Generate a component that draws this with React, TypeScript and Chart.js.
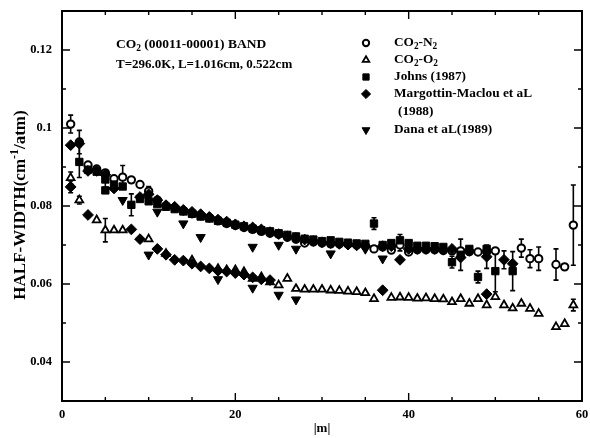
import React, { useEffect, useRef } from "react";
import { Chart, registerables } from "chart.js";
import { drawPoint } from "chart.js/helpers";

Chart.register(...registerables);

const FONT = '"Liberation Serif", "Times New Roman", serif';

// ---- axes ----
const xMin = 0;
const xMax = 60;
const xTickValues = [0, 20, 40, 60];
const xMinorValues = [5, 10, 15, 25, 30, 35, 45, 50, 55];
const yMin = 0.03;
const yMax = 0.13;
const yTickValues = [0.04, 0.06, 0.08, 0.1, 0.12];
const yTickLabels = ["0.04", "0.06", "0.08", "0.1", "0.12"];
const yMinorValues = [0.05, 0.07, 0.09, 0.11];
const xTitle = "|m|";
const yTitleParts: [string, number][] = [["HALF-WIDTH(cm", 0], ["-1", 2], ["/atm)", 0]];

// ---- annotation ----
const noteLine1 = "CO₂ (00011-00001) BAND";
const noteLine2 = "T=296.0K, L=1.016cm, 0.522cm";

// ---- series labels ----
const seriesLabels = ["CO₂-N₂", "CO₂-O₂", "Johns (1987)", "Margottin-Maclou et aL", "Dana et aL(1989)"];
const seriesLabelExtra = ["", "", "", "(1988)", ""];

// ---- CO2-N2 (open circles) ----
const n2M = [
  1, 2, 3, 4, 5, 6, 7, 8, 9, 10,
  11, 12, 13, 14, 15, 16, 17, 18, 19, 20,
  21, 22, 23, 24, 25, 26, 27, 28, 29, 30,
  31, 32, 33, 34, 35, 36, 37, 38, 39, 40,
  41, 42, 43, 44, 45, 46, 47, 48, 49, 50,
  53, 54, 55, 57, 58, 59,
];
const n2W = [
  0.101, 0.0964, 0.0905, 0.0895, 0.0885, 0.087, 0.0874, 0.0867, 0.0855, 0.0838,
  0.0815, 0.08, 0.0795, 0.0788, 0.078, 0.0775, 0.077, 0.0762, 0.0755, 0.075,
  0.0745, 0.074, 0.0735, 0.073, 0.0728, 0.072, 0.0715, 0.0705, 0.0708, 0.0705,
  0.0703, 0.0703, 0.0702, 0.07, 0.0698, 0.069, 0.0695, 0.0687, 0.07, 0.0682,
  0.0688, 0.0688, 0.0688, 0.0686, 0.0685, 0.0685, 0.0683, 0.0682, 0.0683, 0.0685,
  0.0692, 0.0665, 0.0665, 0.065, 0.0644, 0.0751,
];
const n2E = [
  0.0023, 0.003, 0, 0, 0, 0, 0.003, 0, 0, 0.0012,
  0, 0, 0, 0, 0, 0, 0, 0, 0, 0,
  0, 0, 0, 0, 0, 0, 0, 0, 0, 0,
  0, 0, 0, 0, 0, 0, 0, 0, 0.0015, 0,
  0, 0, 0, 0, 0, 0, 0, 0, 0, 0,
  0.0023, 0.0023, 0.003, 0.004, 0, 0.0103,
];

// ---- CO2-O2 (open triangles) ----
const o2M = [
  1, 2, 4, 5, 6, 7, 10, 12, 15,
  18, 19, 20, 21, 22, 23, 24, 25, 26, 27, 28, 29, 30, 31, 32, 33, 34, 35, 36,
  38, 39, 40, 41, 42, 43, 44, 45, 46, 47, 48, 49, 50, 51, 52, 53, 54, 55,
  57, 58, 59,
];
const o2W = [
  0.0872, 0.0815, 0.0764, 0.0738, 0.0738, 0.0738, 0.0715, 0.0678, 0.0661,
  0.0639, 0.0636, 0.0636, 0.0631, 0.0614, 0.0618, 0.0605, 0.0597, 0.0614, 0.0588, 0.0586, 0.0586, 0.0586, 0.0584, 0.0583, 0.0581, 0.058, 0.0577, 0.0562,
  0.0565, 0.0566, 0.0565, 0.0563, 0.0564, 0.0562, 0.0561, 0.0554, 0.0562, 0.055, 0.0562, 0.0546, 0.0567, 0.0546, 0.0538, 0.055, 0.0537, 0.0524,
  0.049, 0.0498, 0.0546,
];
const o2E = [
  0.0015, 0.001, 0, 0.003, 0, 0, 0, 0, 0,
  0, 0, 0, 0, 0, 0, 0, 0, 0, 0, 0, 0, 0, 0, 0, 0, 0, 0, 0,
  0, 0, 0, 0, 0, 0, 0, 0, 0, 0, 0, 0, 0, 0, 0, 0, 0, 0,
  0, 0, 0.0015,
];

// ---- Johns (1987) (filled squares) ----
const johnsM = [
  2, 3, 4, 5, 5, 6, 7, 8, 9, 10,
  11, 12, 13, 14, 15, 16, 17, 18, 19, 20,
  21, 22, 23, 24, 25, 26, 27, 28, 29, 30,
  31, 32, 33, 34, 35, 36, 37, 38, 39, 40,
  41, 42, 43, 44, 45, 46, 47, 48, 49, 50,
  52,
];
const johnsW = [
  0.0913, 0.0893, 0.0888, 0.0868, 0.084, 0.0855, 0.085, 0.0803, 0.0818, 0.0812,
  0.0805, 0.0798, 0.0792, 0.0786, 0.078, 0.0773, 0.0768, 0.0762, 0.0757, 0.0752,
  0.0748, 0.0742, 0.0738, 0.0735, 0.073, 0.0726, 0.0722, 0.0716, 0.0714, 0.071,
  0.0712, 0.0708, 0.0706, 0.0704, 0.0703, 0.0755, 0.07, 0.0705, 0.0712, 0.0705,
  0.0698, 0.0698, 0.0697, 0.0695, 0.0656, 0.0675, 0.069, 0.0618, 0.069, 0.0633,
  0.0633,
];
const johnsE = [
  0.004, 0, 0, 0.002, 0, 0, 0, 0.0028, 0, 0,
  0, 0, 0, 0, 0, 0, 0, 0, 0, 0,
  0, 0, 0, 0, 0, 0, 0, 0, 0, 0,
  0, 0, 0, 0, 0, 0.0015, 0, 0, 0.0015, 0,
  0, 0, 0, 0, 0.0015, 0.004, 0, 0.0015, 0, 0.0053,
  0.005,
];

// ---- Margottin-Maclou et al. (1988) (filled diamonds) ----
const margM = [
  1, 2, 3, 4, 5, 6, 9, 10, 11, 12,
  13, 14, 15, 16, 17, 18, 19, 20, 21, 22,
  23, 24, 25, 26, 27, 28, 29, 30, 31, 32,
  33, 34, 35, 37, 38, 39, 40, 41, 42, 43,
  44, 45, 46, 47, 49, 51, 52,
  1, 3, 8, 9, 11, 12, 13, 14, 15, 16,
  17, 18, 19, 20, 21, 22, 23, 24, 37, 49,
];
const margW = [
  0.0956, 0.096, 0.089, 0.089, 0.088, 0.0845, 0.0823, 0.083, 0.0815, 0.0802,
  0.0798, 0.079, 0.0785, 0.0779, 0.0772, 0.0765, 0.076, 0.0753, 0.0748, 0.0745,
  0.074, 0.0733, 0.0728, 0.0722, 0.0718, 0.0714, 0.071, 0.0707, 0.0705, 0.0703,
  0.0701, 0.0699, 0.0697, 0.0697, 0.0697, 0.0662, 0.069, 0.069, 0.069, 0.069,
  0.0688, 0.069, 0.0668, 0.0685, 0.067, 0.0662, 0.0652,
  0.0849, 0.0777, 0.074, 0.0715, 0.069, 0.0675, 0.0662, 0.066, 0.0652, 0.0645,
  0.064, 0.0634, 0.0632, 0.0628, 0.0624, 0.0617, 0.0612, 0.061, 0.0584, 0.0574,
];
const margE = [
  0, 0, 0, 0, 0, 0, 0, 0, 0, 0,
  0, 0, 0, 0, 0, 0, 0, 0, 0, 0,
  0, 0, 0, 0, 0, 0, 0, 0, 0, 0,
  0, 0, 0, 0, 0, 0, 0, 0, 0, 0,
  0, 0, 0, 0, 0.003, 0.0023, 0,
  0.0015, 0, 0, 0, 0, 0, 0, 0, 0, 0,
  0, 0, 0, 0, 0, 0, 0, 0, 0, 0,
];

// ---- Dana et al. (1989) (filled down triangles) ----
const danaM = [7, 11, 14, 16, 22, 25, 27, 31, 35, 37, 10, 18, 22, 25, 27];
const danaW = [0.0815, 0.0785, 0.0755, 0.072, 0.0695, 0.07, 0.069, 0.0678, 0.069, 0.0665, 0.0675, 0.0612, 0.059, 0.0572, 0.056];
const danaE = [0, 0, 0, 0, 0, 0, 0, 0, 0, 0, 0, 0, 0, 0, 0];

type Style = { pointStyle: string; rotation: number; radius: number; fill: string; borderWidth: number };
const seriesStyles: Style[] = [
  { pointStyle: "circle", rotation: 0, radius: 3.7, fill: "#ffffff", borderWidth: 2 },
  { pointStyle: "triangle", rotation: 0, radius: 4.5, fill: "#ffffff", borderWidth: 1.8 },
  { pointStyle: "rect", rotation: 0, radius: 5.2, fill: "#000000", borderWidth: 1 },
  { pointStyle: "rectRot", rotation: 0, radius: 5.4, fill: "#000000", borderWidth: 1 },
  { pointStyle: "triangle", rotation: 180, radius: 5.3, fill: "#000000", borderWidth: 1 },
];

const seriesData = [
  { m: n2M, w: n2W, e: n2E },
  { m: o2M, w: o2W, e: o2E },
  { m: johnsM, w: johnsW, e: johnsE },
  { m: margM, w: margW, e: margE },
  { m: danaM, w: danaW, e: danaE },
];
const drawOrder = [5, 4, 3, 2, 1];

function drawRich(ctx: CanvasRenderingContext2D, text: string, x: number, y: number, size: number, align: "left" | "center") {
  const parts: [string, number][] = [];
  for (const ch of text) {
    const sub = ch === "₂";
    const t = sub ? "2" : ch;
    const k = sub ? 1 : 0;
    if (parts.length && parts[parts.length - 1][1] === k) parts[parts.length - 1][0] += t;
    else parts.push([t, k]);
  }
  drawParts(ctx, parts, x, y, size, align);
}

function drawParts(ctx: CanvasRenderingContext2D, parts: [string, number][], x: number, y: number, size: number, align: "left" | "center") {
  let w = 0;
  for (const [t, k] of parts) {
    ctx.font = `bold ${k ? size * 0.7 : size}px ${FONT}`;
    w += ctx.measureText(t).width;
  }
  let cx = align === "center" ? x - w / 2 : x;
  ctx.textAlign = "left";
  ctx.textBaseline = "middle";
  for (const [t, k] of parts) {
    const s = k ? size * 0.7 : size;
    ctx.font = `bold ${s}px ${FONT}`;
    const dy = k === 1 ? size * 0.3 : k === 2 ? -size * 0.38 : 0;
    ctx.fillText(t, cx, y + dy);
    cx += ctx.measureText(t).width;
  }
}

const errorBarPlugin = {
  id: "errorBars",
  beforeDatasetsDraw(chart: any) {
    const { ctx, scales } = chart;
    const xs = scales.x;
    const ys = scales.y;
    ctx.save();
    ctx.strokeStyle = "#000";
    ctx.lineWidth = 1.6;
    seriesData.forEach((s) => {
      s.m.forEach((m, i) => {
        const e = s.e[i];
        if (!e) return;
        const px = xs.getPixelForValue(m);
        const y1 = ys.getPixelForValue(s.w[i] + e);
        const y2 = ys.getPixelForValue(s.w[i] - e);
        ctx.beginPath();
        ctx.moveTo(px, y1);
        ctx.lineTo(px, y2);
        ctx.moveTo(px - 2.5, y1);
        ctx.lineTo(px + 2.5, y1);
        ctx.moveTo(px - 2.5, y2);
        ctx.lineTo(px + 2.5, y2);
        ctx.stroke();
      });
    });
    ctx.restore();
  },
};

const framePlugin = {
  id: "frame",
  afterDraw(chart: any) {
    const { ctx, chartArea: a, scales } = chart;
    const xs = scales.x;
    const ys = scales.y;
    ctx.save();
    ctx.strokeStyle = "#000";
    ctx.fillStyle = "#000";
    ctx.lineWidth = 2;
    ctx.strokeRect(a.left, a.top, a.right - a.left, a.bottom - a.top);
    ctx.lineWidth = 1.4;
    ctx.beginPath();
    const xt = (v: number, len: number) => {
      const p = xs.getPixelForValue(v);
      ctx.moveTo(p, a.bottom);
      ctx.lineTo(p, a.bottom - len);
      ctx.moveTo(p, a.top);
      ctx.lineTo(p, a.top + len);
    };
    const yt = (v: number, len: number) => {
      const p = ys.getPixelForValue(v);
      ctx.moveTo(a.left, p);
      ctx.lineTo(a.left + len, p);
      ctx.moveTo(a.right, p);
      ctx.lineTo(a.right - len, p);
    };
    xTickValues.forEach((v) => xt(v, 8));
    xMinorValues.forEach((v) => xt(v, 4));
    yTickValues.forEach((v) => yt(v, 8));
    yMinorValues.forEach((v) => yt(v, 4));
    ctx.stroke();

    // axis titles
    drawParts(ctx, [[xTitle, 0]], (a.left + a.right) / 2, 429, 13, "center");
    ctx.save();
    ctx.translate(21, 205);
    ctx.rotate(-Math.PI / 2);
    drawParts(ctx, yTitleParts, 0, 0, 17, "center");
    ctx.restore();

    // annotation
    drawRich(ctx, noteLine1, 116, 45, 13.5, "left");
    drawRich(ctx, noteLine2, 116, 65, 13, "left");

    // legend
    const rows = [43, 60, 77, 94, 130];
    const extraRows = [0, 0, 0, 112, 0];
    seriesLabels.forEach((label, i) => {
      const st = seriesStyles[i];
      ctx.fillStyle = st.fill;
      ctx.strokeStyle = "#000";
      ctx.lineWidth = st.borderWidth;
      drawPoint(ctx, { pointStyle: st.pointStyle as any, rotation: st.rotation, radius: st.radius * 0.85, borderWidth: st.borderWidth }, 366, rows[i]);
      ctx.fillStyle = "#000";
      drawRich(ctx, label, 394, rows[i], 13.3, "left");
      if (seriesLabelExtra[i]) drawRich(ctx, seriesLabelExtra[i], 398, extraRows[i], 13.3, "left");
    });
    ctx.restore();
  },
};

const zeroPad = (s: any) => {
  s.paddingTop = 0;
  s.paddingBottom = 0;
  s.paddingLeft = 0;
  s.paddingRight = 0;
};

export default function App() {
  const ref = useRef<HTMLCanvasElement>(null);
  useEffect(() => {
    if (!ref.current) return;
    const datasets = seriesData.map((s, i) => {
      const st = seriesStyles[i];
      return {
        label: seriesLabels[i],
        data: s.m.map((m, j) => ({ x: m, y: s.w[j] })),
        pointStyle: st.pointStyle,
        pointRotation: st.rotation,
        pointRadius: st.radius,
        pointBackgroundColor: st.fill,
        pointBorderColor: "#000000",
        pointBorderWidth: st.borderWidth,
        showLine: false,
        order: drawOrder[i],
      };
    });
    const chart = new Chart(ref.current, {
      type: "scatter",
      data: { datasets: datasets as any },
      options: {
        responsive: false,
        animation: false,
        layout: { padding: { left: 0, right: 8, top: 11, bottom: 0 } },
        plugins: { legend: { display: false }, tooltip: { enabled: false } },
        scales: {
          x: {
            type: "linear",
            min: xMin,
            max: xMax,
            afterBuildTicks: (s: any) => {
              s.ticks = xTickValues.map((v) => ({ value: v }));
            },
            afterFit: (s: any) => {
              s.height = 37;
              zeroPad(s);
            },
            grid: { display: false, drawTicks: false },
            border: { display: false },
            ticks: {
              padding: 6,
              color: "#000",
              font: { family: FONT, size: 12.5, weight: "bold" },
              callback: (v: any) => String(v),
            },
          },
          y: {
            type: "linear",
            min: yMin,
            max: yMax,
            afterBuildTicks: (s: any) => {
              s.ticks = yTickValues.map((v) => ({ value: v }));
            },
            afterFit: (s: any) => {
              s.width = 62;
              zeroPad(s);
            },
            grid: { display: false, drawTicks: false },
            border: { display: false },
            ticks: {
              padding: 10,
              color: "#000",
              font: { family: FONT, size: 12.5, weight: "bold" },
              callback: (_v: any, i: number) => yTickLabels[i],
            },
          },
        },
      } as any,
      plugins: [errorBarPlugin, framePlugin],
    });
    return () => chart.destroy();
  }, []);
  return (
    <div style={{ position: "absolute", left: 0, top: 0, width: 590, height: 438, background: "#fff" }}>
      <canvas ref={ref} width={590} height={438} style={{ display: "block" }} />
    </div>
  );
}
